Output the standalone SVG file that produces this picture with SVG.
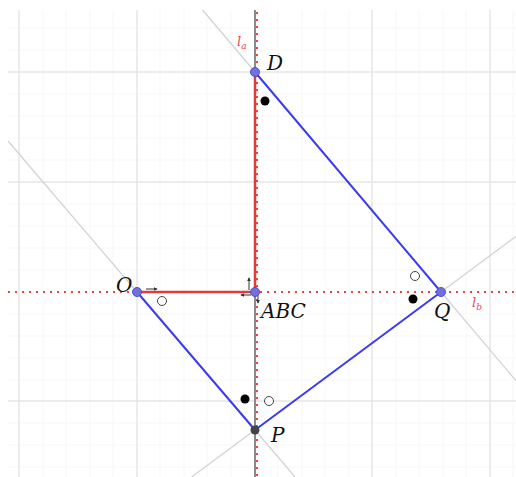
<svg xmlns="http://www.w3.org/2000/svg" width="516" height="477" viewBox="0 0 516 477">
<defs>
<style>
.grid{stroke:#e6e6e6;stroke-width:1.5;fill:none}
.minor{stroke:#f7f7f7;stroke-width:1;fill:none}
.ext{stroke:#d2d2d2;stroke-width:1.2;fill:none}
.axis{stroke:#8a8a8a;stroke-width:2;fill:none}
.rdot{stroke:#ee4444;stroke-width:2;stroke-dasharray:2 5;fill:none}
.rseg{stroke:#e03c3c;stroke-width:2.5;fill:none}
.side{stroke:#3a3af0;stroke-width:2;fill:none}
.pt{fill:#7070e0;stroke:#5050c0;stroke-width:1}
.lbl{font-family:"DejaVu Serif","Liberation Serif",serif;font-style:italic;font-size:20px;fill:#111}
.rl{font-family:"DejaVu Serif","Liberation Serif",serif;font-style:italic;font-size:13px;fill:#ee4444}
.vec{stroke:#333;stroke-width:1;fill:none}
</style>
<marker id="ah" viewBox="0 0 6 6" refX="5" refY="3" markerWidth="4" markerHeight="4" orient="auto"><path d="M0,0 L6,3 L0,6 z" fill="#333"/></marker>
</defs>
<rect width="516" height="477" fill="#fff"/>
<g id="grid">
<path class="minor" d="M8,94 H516 M8,116 H516 M8,138 H516 M8,160 H516 M8,204 H516 M8,226 H516 M8,248 H516 M8,270 H516 M8,314 H516 M8,336 H516 M8,358 H516 M8,380 H516 M8,423 H516 M8,445 H516 M8,467 H516 M8,28 H516 M8,50 H516"/>
<path class="minor" d="M43,10 V477 M66,10 V477 M90,10 V477 M113,10 V477 M160,10 V477 M184,10 V477 M207,10 V477 M231,10 V477 M278,10 V477 M302,10 V477 M325,10 V477 M349,10 V477 M396,10 V477 M419,10 V477 M443,10 V477 M466,10 V477 M513,10 V477"/>
<path class="grid" d="M8,72 H516 M8,182 H516 M8,401 H516 M19,10 V477 M137,10 V477 M372,10 V477 M490,10 V477"/>
</g>
<g id="extensions">
<line class="ext" x1="202.6" y1="10" x2="255" y2="72"/>
<line class="ext" x1="441" y1="292" x2="516" y2="380.7"/>
<line class="ext" x1="8" y1="141" x2="137" y2="292"/>
<line class="ext" x1="255" y1="430" x2="295" y2="477"/>
<line class="ext" x1="441" y1="292" x2="516" y2="236.4"/>
<line class="ext" x1="255" y1="430" x2="191.6" y2="477"/>
</g>
<g id="axes">
<line class="axis" x1="255" y1="10" x2="255" y2="477"/>
<line class="rdot" x1="257" y1="12" x2="257" y2="477"/>
<line class="rdot" x1="8" y1="292" x2="516" y2="292"/>
<line class="rseg" x1="255" y1="72" x2="255" y2="292"/>
<line class="rseg" x1="137" y1="292" x2="255" y2="292"/>
</g>
<g id="connectors">
<line class="side" x1="255" y1="72" x2="441" y2="292"/>
<line class="side" x1="441" y1="292" x2="255" y2="430"/>
<line class="side" x1="255" y1="430" x2="137" y2="292"/>
<line class="vec" x1="146" y1="289" x2="157" y2="289" marker-end="url(#ah)"/>
<line class="vec" x1="249" y1="290" x2="249" y2="278" marker-end="url(#ah)"/>
<line class="vec" x1="251" y1="295" x2="241" y2="295" marker-end="url(#ah)"/>
<line class="vec" x1="258" y1="295" x2="258" y2="303" marker-end="url(#ah)"/>
</g>
<g id="marks">
<circle cx="265" cy="101" r="4.5" fill="#000"/>
<circle cx="162" cy="301" r="4.5" fill="#fff" stroke="#444" stroke-width="1"/>
<circle cx="415" cy="276" r="4.5" fill="#fff" stroke="#444" stroke-width="1"/>
<circle cx="413" cy="299" r="4.5" fill="#000"/>
<circle cx="245" cy="399" r="4.5" fill="#000"/>
<circle cx="269" cy="401" r="4.5" fill="#fff" stroke="#444" stroke-width="1"/>
</g>
<g id="node-D"><circle class="pt" cx="255" cy="72" r="4.5"/><text class="lbl" x="267" y="70">D</text></g>
<g id="node-O"><circle class="pt" cx="137" cy="292" r="4.5"/><text class="lbl" x="116" y="292">O</text></g>
<g id="node-ABC"><circle class="pt" cx="255" cy="292" r="4.5"/><text class="lbl" x="261" y="318">ABC</text></g>
<g id="node-Q"><circle class="pt" cx="441" cy="292" r="4.5"/><text class="lbl" x="434" y="318">Q</text></g>
<g id="node-P"><circle cx="255" cy="430" r="4.5" fill="#444"/><text class="lbl" x="271" y="442">P</text></g>
<g id="label-la"><text class="rl" x="237" y="46">l<tspan font-size="9" dy="3">a</tspan></text></g>
<g id="label-lb"><text class="rl" x="472" y="307">l<tspan font-size="9" dy="3">b</tspan></text></g>
</svg>
